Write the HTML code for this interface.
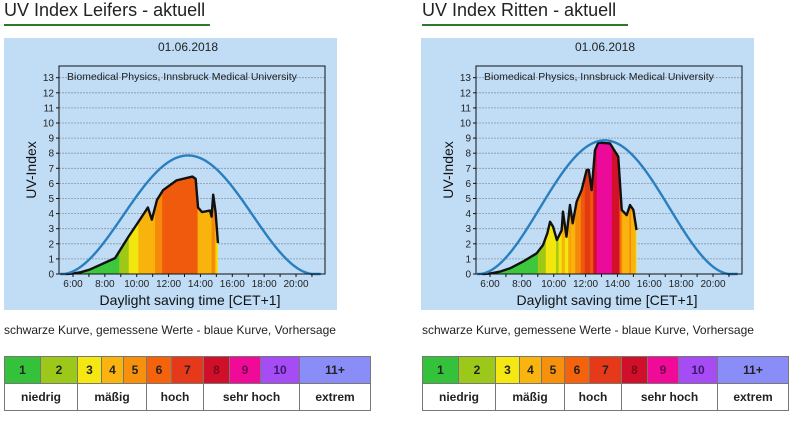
<!DOCTYPE html>
<html><head><meta charset="utf-8"><style>
body{margin:0;background:#fff;width:800px;height:422px;overflow:hidden;font-family:"Liberation Sans",sans-serif;position:relative}
.t{position:absolute;top:0;font-size:18px;color:#222;}
.ul{position:absolute;top:24px;height:2px;background:#2a7a2a}
.lg{position:absolute;top:323px;font-size:12px;color:#222}
table{position:absolute;top:356px;border-collapse:collapse;font-size:12px;font-weight:bold;color:#222}
td{border:1px solid #777;text-align:center;padding:0;height:26px}
</style></head><body>
<div class="t" style="left:4px">UV Index Leifers - aktuell</div>
<div class="ul" style="left:4px;width:206px"></div>
<div class="t" style="left:422px">UV Index Ritten - aktuell</div>
<div class="ul" style="left:422px;width:206px"></div>
<svg id="s" width="800" height="320" style="position:absolute;left:0;top:0"></svg>
<div class="lg" style="left:4px">schwarze Kurve, gemessene Werte - blaue Kurve, Vorhersage</div>
<div class="lg" style="left:422px">schwarze Kurve, gemessene Werte - blaue Kurve, Vorhersage</div>
<table style="left:4px" id="t1"></table>
<table style="left:422px" id="t2"></table>
<script>
var NS="http://www.w3.org/2000/svg",s=document.getElementById('s');
function el(n,a,txt,par){var e=document.createElementNS(NS,n);for(var k in a)e.setAttribute(k,a[k]);if(txt!=null)e.textContent=txt;(par||s).appendChild(e);return e;}
var cols=['#3cc73c','#3cc73c','#9fc817','#f2e60e','#f8b40c','#f58a0a','#f05a0c','#e33a14','#d2102a','#ec0a9a','#a64cf5','#8c8cfa'];
function interp(d,t){if(t<=d[0][0])return 0;for(var i=1;i<d.length;i++){if(t<=d[i][0]){var a=d[i-1],b=d[i];return a[1]+(b[1]-a[1])*(t-a[0])/(b[0]-a[0]);}}return 0;}
function chart(o,meas,peak,tc,id){
 var X=function(h){return o+73+(h-6)*15.93},Y=function(u){return 274-u*15.1};
 el('rect',{x:o+4,y:38,width:333,height:272,fill:'#c0ddf5'});
 el('text',{x:o+188,y:51,'font-size':12,'text-anchor':'middle',fill:'#222'},'01.06.2018');
 for(var i=1;i<=13;i++)el('line',{x1:o+59,x2:o+325,y1:Y(i),y2:Y(i),stroke:'#8a96a6','stroke-width':0.8,'stroke-dasharray':'2,1'});
 var end=meas[meas.length-1][0];
 var p='M'+X(meas[0][0])+','+Y(0);meas.forEach(function(q){p+=' L'+X(q[0])+','+Y(q[1]);});p+=' L'+X(end)+','+Y(0)+'Z';
 var cp=el('clipPath',{id:id});el('path',{d:p},null,cp);
 var g=el('g',{'clip-path':'url(#'+id+')'});
 for(var t=meas[0][0];t<end;t+=0.05){var m=0;for(var k=0;k<=5;k++)m=Math.max(m,interp(meas,Math.min(end,t+k*0.01)));
  var c=cols[Math.min(11,Math.round(m))];el('rect',{x:X(t),y:Y(13),width:X(t+0.05)-X(t)+0.4,height:Y(0)-Y(13),fill:c},null,g);}
 p='';meas.forEach(function(q,j){p+=(j?' L':'M')+X(q[0])+','+Y(q[1]);});
 el('path',{d:p,fill:'none',stroke:'#111','stroke-width':2.4,'stroke-linejoin':'round'});
 p='';for(var t=5.2;t<=21.6;t+=0.05){var c=Math.abs(t-tc)<7.9?Math.pow(Math.cos(Math.PI*(t-tc)/15.8),1.9):0;p+=(p?' L':'M')+X(t)+','+Y(peak*c);}
 el('path',{d:p,fill:'none',stroke:'#2a7fc0','stroke-width':2.4});
 el('rect',{x:o+59,y:66,width:266,height:208,fill:'none',stroke:'#111','stroke-width':1});
 el('text',{x:o+67,y:80,'font-size':10.5,fill:'#222'},'Biomedical Physics, Innsbruck Medical University');
 for(var i=0;i<=13;i++){el('line',{x1:o+56,x2:o+59,y1:Y(i),y2:Y(i),stroke:'#111'});el('text',{x:o+54,y:Y(i)+3.5,'font-size':10,'text-anchor':'end',fill:'#222'},''+i);}
 for(var h=6;h<=21;h++)el('line',{x1:X(h),x2:X(h),y1:274,y2:277,stroke:'#111'});
 for(var h=6;h<=20;h+=2)el('text',{x:X(h),y:287,'font-size':10,'text-anchor':'middle',fill:'#222'},h+':00');
 el('text',{x:o+190,y:305,'font-size':14,'text-anchor':'middle',fill:'#111'},'Daylight saving time [CET+1]');
 el('text',{x:0,y:0,'font-size':14,'text-anchor':'middle',fill:'#111',transform:'translate('+(o+36)+',170) rotate(-90)'},'UV-Index');
}
chart(0,[[5.5,0],[6,0.03],[6.5,0.12],[7.07,0.3],[7.8,0.65],[8.64,1.05],[9.47,2.45],[10.2,3.6],[10.7,4.4],[10.95,3.6],[11.27,4.9],[11.65,5.55],[12.5,6.2],[13.5,6.45],[13.7,6.3],[13.85,4.4],[14.1,4.1],[14.6,4.2],[14.7,3.8],[14.8,5.25],[14.95,4.1],[15.1,2.05]],7.85,13.22,'c1');
chart(417,[[5.5,0],[6,0.03],[6.6,0.15],[7.26,0.38],[8.07,0.82],[8.93,1.37],[9.33,1.92],[9.6,2.7],[9.77,3.46],[9.96,3.13],[10.2,2.25],[10.5,2.9],[10.58,4.13],[10.8,2.47],[11.02,4.57],[11.19,3.36],[11.44,4.79],[11.75,5.56],[12.07,6.89],[12.2,6.9],[12.38,5.56],[12.59,8.2],[12.8,8.7],[13.53,8.65],[14.05,7.77],[14.27,4.24],[14.58,3.9],[14.79,4.57],[15.0,4.24],[15.2,2.91]],8.85,13.2,'c2');
var w1=[36,37,24,22,23,25,32,26,31,39,71],lb=['1','2','3','4','5','6','7','8','9','10','11+'],tc=['#33c23a','#9cc81a','#f5e812','#f9b40f','#f6900d','#f4620c','#e5391a','#d0102a','#ef0a98','#a64cf5','#8a8cf8'];
var tx=['#222','#222','#222','#222','#222','#222','#222','#7a0a1a','#6a0a4a','#3a1a6a','#222'];
['t1','t2'].forEach(function(id){var h='<tr>';for(var i=0;i<11;i++)h+='<td style="width:'+(w1[i]-1)+'px;background:'+tc[i]+';color:'+tx[i]+'">'+lb[i]+'</td>';
h+='</tr><tr><td colspan="2">niedrig</td><td colspan="3">mäßig</td><td colspan="2">hoch</td><td colspan="3">sehr hoch</td><td>extrem</td></tr>';document.getElementById(id).innerHTML=h;});
</script>
</body></html>
